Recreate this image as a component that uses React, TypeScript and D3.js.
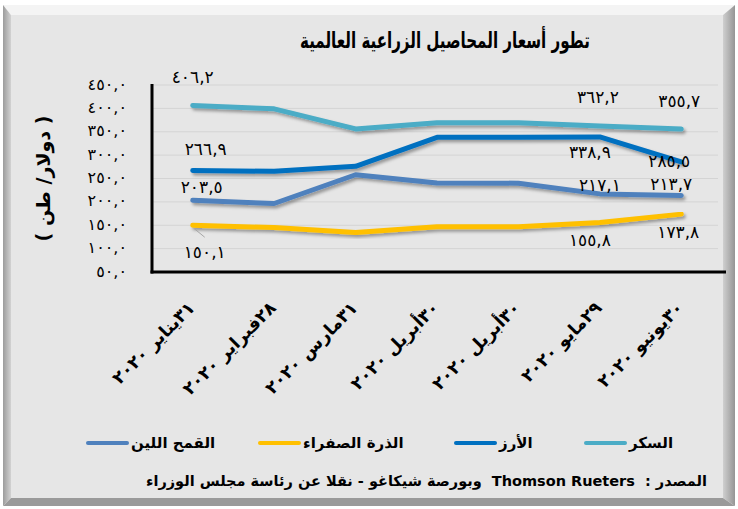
import * as d3 from "d3";

// categories (x axis) and series values
const categories = [
  "٣١يناير ٢٠٢٠",
  "٢٨فبراير ٢٠٢٠",
  "٣١مارس ٢٠٢٠",
  "٣٠أبريل ٢٠٢٠",
  "٣٠أبريل ٢٠٢٠",
  "٢٩مايو ٢٠٢٠",
  "٣٠يونيو ٢٠٢٠",
];
const sugar = [406.2, 399, 356, 369, 369, 362.2, 355.7];
const rice = [266.9, 265.5, 276, 338, 338.5, 338.9, 285.5];
const wheat = [203.5, 196.5, 258, 240.5, 240, 217.1, 213.7];
const corn = [150.1, 145, 134.5, 147, 147, 155.8, 173.8];
const yTicks = [50, 100, 150, 200, 250, 300, 350, 400, 450];

const title = "تطور أسعار المحاصيل الزراعية العالمية";
const yTitle = "( دولار/ طن )";
const source =
  "المصدر :\u00a0\u00a0Thomson Rueters\u00a0\u00a0وبورصة شيكاغو - نقلا عن رئاسة مجلس الوزراء";

const series = [
  { name: "السكر", values: sugar, color: "#4bacc6" },
  { name: "الأرز", values: rice, color: "#0070c0" },
  { name: "الذرة الصفراء", values: corn, color: "#ffc000" },
  { name: "القمح اللين", values: wheat, color: "#4f81bd" },
];

// which points carry a value label and where it sits relative to the point
const labelPlacement = [
  { s: 0, i: 0, dx: 0, dy: -27 },
  { s: 0, i: 5, dx: -2, dy: -28 },
  { s: 0, i: 6, dx: -2, dy: -27 },
  { s: 1, i: 0, dx: 13, dy: -21 },
  { s: 1, i: 5, dx: -10, dy: 16 },
  { s: 1, i: 6, dx: -12, dy: 0 },
  { s: 3, i: 0, dx: 9, dy: -12 },
  { s: 3, i: 5, dx: 0, dy: -8 },
  { s: 3, i: 6, dx: -10, dy: -10 },
  { s: 2, i: 0, dx: 12, dy: 28 },
  { s: 2, i: 5, dx: -10, dy: 18 },
  { s: 2, i: 6, dx: -3, dy: 19 },
];

// legend slots, right to left like the original
const legendX = [584, 454, 258, 86];

const W = 738;
const H = 509;
const margin = { left: 152, right: 16, top: 85, bottom: 237 };

const arabicDigits = "٠١٢٣٤٥٦٧٨٩";
const toArabic = (v: number) =>
  v
    .toFixed(1)
    .replace(".", ",")
    .replace(/\d/g, (d) => arabicDigits[+d]);

const AR_FONT = "'DejaVu Sans', sans-serif";

export default function App() {
  const x = d3
    .scaleBand<number>()
    .domain(d3.range(categories.length))
    .range([margin.left, W - margin.right]);
  const cx = (i: number) => (x(i) ?? 0) + x.bandwidth() / 2;

  const y = d3
    .scaleLinear()
    .domain([50, 450])
    .range([H - margin.bottom, margin.top]);

  const line = d3
    .line<number>()
    .x((_, i) => cx(i))
    .y((d) => y(d));

  const plotRight = W - margin.right;
  const plotBottom = H - margin.bottom;

  return (
    <svg
      width={W}
      height={H}
      style={{ position: "absolute", left: 0, top: 0 }}
      fontFamily={AR_FONT}
    >
      <defs>
        <filter id="shadow" x="-10%" y="-10%" width="120%" height="140%">
          <feDropShadow dx="2" dy="2.5" stdDeviation="1.5" floodColor="#000" floodOpacity="0.35" />
        </filter>
        <linearGradient id="leftBevel" x1="0" x2="1">
          <stop offset="0" stopColor="#9c9c9c" />
          <stop offset="1" stopColor="#d2d2d2" />
        </linearGradient>
        <linearGradient id="rightBevel" x1="0" x2="1">
          <stop offset="0" stopColor="#cfcfcf" />
          <stop offset="1" stopColor="#959595" />
        </linearGradient>
      </defs>

      {/* frame */}
      <rect x={0} y={0} width={W} height={H} fill="#ffffff" />
      <polygon points="3,5 735,5 723,15 11,15" fill="#f4f4f4" />
      <polygon points="3,5 11,15 11,498 3,506" fill="url(#leftBevel)" />
      <polygon points="735,5 735,506 723,498 723,15" fill="url(#rightBevel)" />
      <polygon points="3,506 11,498 723,498 735,506" fill="#9a9a9a" />
      <rect x={11} y={15} width={712} height={483} fill="#e6e6e6" />

      {/* title */}
      <text
        x={445}
        y={42}
        textAnchor="middle"
        dominantBaseline="middle"
        fontSize={22}
        fontWeight="bold"
        textLength={290}
        lengthAdjust="spacingAndGlyphs"
      >
        {title}
      </text>

      {/* grid */}
      {yTicks.slice(1).map((t) => (
        <line key={t} x1={margin.left} x2={plotRight - 4} y1={y(t)} y2={y(t)} stroke="#d4d4d4" strokeWidth={1} />
      ))}

      {/* y tick labels */}
      {yTicks.map((t) => (
        <text key={t} x={127} y={y(t)} textAnchor="end" dominantBaseline="middle" fontSize={16} letterSpacing={2}>
          {toArabic(t)}
        </text>
      ))}

      {/* y title */}
      <text
        transform={`translate(44,${(margin.top + plotBottom) / 2}) rotate(-90)`}
        textAnchor="middle"
        dominantBaseline="middle"
        direction="rtl"
        fontSize={19}
        fontWeight="bold"
      >
        {yTitle}
      </text>

      {/* lines */}
      {series.map((s) => (
        <path
          key={s.name}
          d={line(s.values) ?? ""}
          fill="none"
          stroke={s.color}
          strokeWidth={5}
          strokeLinecap="round"
          strokeLinejoin="round"
          filter="url(#shadow)"
        />
      ))}

      {/* leader line for the first corn label */}
      <line
        x1={cx(0) + 1}
        y1={y(corn[0]) + 3}
        x2={cx(0) + 12}
        y2={y(corn[0]) + 12}
        stroke="#a6a6a6"
        strokeWidth={1}
      />

      {/* axes */}
      <line x1={margin.left} x2={margin.left} y1={margin.top - 1} y2={plotBottom + 1.5} stroke="#000" strokeWidth={3} />
      <line x1={margin.left - 1.5} x2={plotRight + 4} y1={plotBottom} y2={plotBottom} stroke="#000" strokeWidth={3} />

      {/* value labels */}
      {labelPlacement.map((p, k) => {
        const v = series[p.s].values[p.i];
        return (
          <text
            key={k}
            x={cx(p.i) + p.dx}
            y={y(v) + p.dy}
            textAnchor="middle"
            dominantBaseline="middle"
            fontSize={17}
            letterSpacing={0.5}
          >
            {toArabic(v)}
          </text>
        );
      })}

      {/* x labels */}
      {categories.map((c, i) => (
        <text
          key={i}
          transform={`translate(${cx(i) + 3},${plotBottom + 37}) rotate(-45)`}
          textAnchor="end"
          fontSize={17.5}
          fontWeight="bold"
        >
          {c}
        </text>
      ))}

      {/* legend */}
      {series.map((s, i) => (
        <g key={s.name} transform={`translate(${legendX[i]},443)`}>
          <line x1={2} x2={41} y1={0} y2={0} stroke={s.color} strokeWidth={4} strokeLinecap="round" />
          <text x={45} y={0} dominantBaseline="middle" fontSize={15} fontWeight="bold">
            {s.name}
          </text>
        </g>
      ))}

      {/* source */}
      <text x={707} y={482} direction="rtl" textAnchor="start" dominantBaseline="middle" fontSize={14.5} fontWeight="bold">
        {source}
      </text>
    </svg>
  );
}
